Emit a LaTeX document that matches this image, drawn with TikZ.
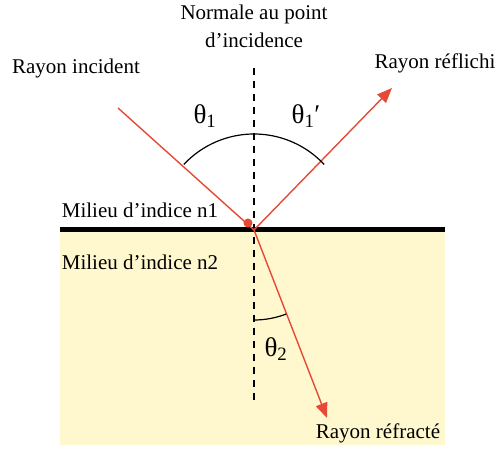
\documentclass[tikz,border=0pt]{standalone}
\usepackage{fontspec}
\setmainfont{Liberation Serif}
\usetikzlibrary{arrows.meta,positioning}
\definecolor{rayred}{RGB}{230,74,54}
\definecolor{milieu}{RGB}{255,247,206}

\begin{document}
\begin{tikzpicture}[x=1pt, y=1pt,
  txt/.style={font=\fontsize{21}{28}\selectfont, inner sep=0pt, align=center},
  ang/.style={font=\fontsize{27}{29}\selectfont, inner sep=0pt},
  ray/.style={rayred, line width=1.4pt},
  arrow/.style={ray, -{Triangle[length=15pt, width=12pt]}},
  normal/.style={line width=1.3pt, dash pattern=on 7pt off 6pt},
  arc/.style={line width=1.2pt}]
  \useasboundingbox (0,0) rectangle (496,450);
  % milieux
  \fill[milieu] (60,5) rectangle (445,220);
  \coordinate (O) at (254,220);
  \coordinate (left) at (60,220);
  \coordinate (right) at (445,220);
  \draw[line width=5pt] (left) -- (right);
  % normale
  \coordinate (ntop) at (254,382);
  \coordinate (nbot) at (254,50);
  \draw[normal] (ntop) -- (nbot);
  % rayons
  \coordinate (inc) at (118,342);
  \coordinate (refl) at (392,362);
  \coordinate (refr) at (327,32);
  \draw[ray] (inc) -- (O);
  \draw[arrow] (O) -- (refl);
  \draw[arrow] (O) -- (refr);
  \fill[rayred] (248,227) circle (4.5);
  % angles
  \draw[arc] ([shift={(43:96)}]O) arc (43:137:96);
  \draw[arc] ([shift={(-90:90)}]O) arc (-90:-69:90);
  % textes
  \node[txt] (normlbl) at (254,424) {Normale au point\\d'incidence};
  \node[txt] (inclbl) at (76,382) {Rayon incident};
  \node[txt] (refllbl) at (435,387) {Rayon réflichi};
  \node[txt] (refrlbl) at (378,17) {Rayon réfracté};
  \node[txt] (n1) at (140,240) {Milieu d'indice n1};
  \node[txt] (n2) at (140,188) {Milieu d'indice n2};
  \node[ang] (t1) at (205,334) {θ\textsubscript{1}};
  \node[ang] (t1p) at (306,334) {θ\textsubscript{1}′};
  \node[ang] (t2) at (276,101) {θ\textsubscript{2}};
\end{tikzpicture}
\end{document}
